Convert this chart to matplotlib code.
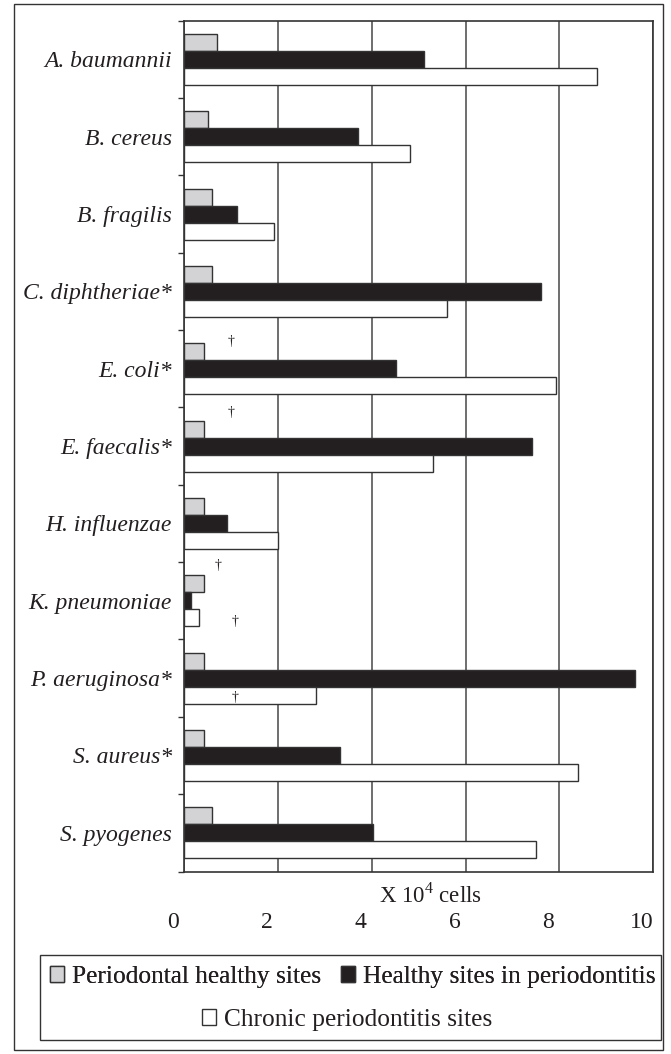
import matplotlib
matplotlib.use("Agg")
import matplotlib.pyplot as plt
import numpy as np
from matplotlib.patches import Rectangle, Patch
from matplotlib.transforms import ScaledTranslation

plt.rcParams['font.family'] = ['Liberation Serif', 'DejaVu Serif']
plt.rcParams['mathtext.fontset'] = 'custom'
plt.rcParams['mathtext.rm'] = 'Liberation Serif'
plt.rcParams['text.color'] = '#231f20'

# data, x 10^4 cells
species = ['A. baumannii', 'B. cereus', 'B. fragilis', 'C. diphtheriae*', 'E. coli*',
           'E. faecalis*', 'H. influenzae', 'K. pneumoniae', 'P. aeruginosa*',
           'S. aureus*', 'S. pyogenes']
healthy = [0.70, 0.51, 0.60, 0.60, 0.41, 0.41, 0.41, 0.41, 0.41, 0.41, 0.60]
healthy_in_perio = [5.12, 3.71, 1.12, 7.62, 4.51, 7.42, 0.92, 0.14, 9.62, 3.32, 4.02]
chronic = [8.80, 4.81, 1.91, 5.61, 7.92, 5.31, 2.00, 0.31, 2.80, 8.40, 7.51]
series_names = ['Periodontal healthy sites', 'Healthy sites in periodontitis',
                'Chronic periodontitis sites']
x_ticks = [0, 2, 4, 6, 8, 10]

# significance marks (category index, x value, offset within the category)
dagger_cat = [4, 5, 7, 7, 8]
dagger_x = [1.0, 1.0, 0.72, 1.09, 1.09]
dagger_dy = [-0.35, -0.44, -0.45, 0.27, 0.25]

colors = ['#d3d3d5', '#231f20', '#ffffff']
edge = '#333333'

W, H = 671, 1054
fig = plt.figure(figsize=(W / 100, H / 100), dpi=100)

left, right, top, bottom = 184.3, 653.0, 20.7, 871.5
ax = fig.add_axes([left / W, 1 - bottom / H, (right - left) / W, (bottom - top) / H])

n = len(species)
y = np.arange(n)
h = 0.22
for vals, off, c in zip([healthy, healthy_in_perio, chronic], [-h, 0, h], colors):
    ax.barh(y + off, vals, h, color=c, edgecolor=edge, linewidth=1.0, zorder=3)

ax.set_xlim(0, 10)
ax.set_ylim(n - 0.5, -0.5)

ax.set_xticks(x_ticks)
ax.set_xticklabels([str(t) for t in x_ticks])
ax.grid(axis='x', color='#555555', linewidth=1.2, zorder=0)
ax.set_axisbelow(True)
ax.tick_params(axis='x', length=0, pad=29, labelsize=17, labelcolor='#231f20')
for lab in ax.get_xticklabels():
    lab.set_transform(lab.get_transform() + ScaledTranslation(-0.11, 0, fig.dpi_scale_trans))

ax.set_yticks(y)
ax.set_yticklabels(species, fontstyle='italic', fontsize=17)
ax.tick_params(axis='y', which='major', length=0, pad=9, labelcolor='#231f20')
ax.set_yticks(np.arange(n + 1) - 0.5, minor=True)
ax.tick_params(axis='y', which='minor', length=4.3, width=1.0, direction='out', color=edge)

for s in ax.spines.values():
    s.set_color(edge)
    s.set_linewidth(1.2)

for c, xv, dy in zip(dagger_cat, dagger_x, dagger_dy):
    ax.text(xv, c + dy, '\u2020', ha='center', va='center', fontsize=10, zorder=4)

fig.text(430 / W, 1 - 895 / H, 'X 10$^{\\mathregular{4}}$ cells', ha='center', va='center',
         fontsize=16.5)

# outer frame
fig.patches.append(Rectangle((14 / W, 4 / H), (663 - 14) / W, (1050 - 4) / H,
                             transform=fig.transFigure, fill=False, ec=edge, lw=1.0))
# legend box
fig.patches.append(Rectangle((40 / W, 1 - 1040 / H), (661 - 40) / W, (1040 - 955) / H,
                             transform=fig.transFigure, fill=False, ec=edge, lw=1.0))

handles = [Patch(facecolor=c, edgecolor=edge, linewidth=1.0, label=nm)
           for c, nm in zip(colors, series_names)]
leg_kw = dict(frameon=False, fontsize=18.3, handlelength=0.55, handleheight=0.55,
              handletextpad=0.3, columnspacing=0.8, borderpad=0, borderaxespad=0)
leg1 = fig.legend(handles=handles[:2], ncol=2, loc='center', bbox_to_anchor=(353 / W, 1 - 977 / H), **leg_kw)
fig.add_artist(leg1)
fig.legend(handles=handles[2:], ncol=1, loc='center', bbox_to_anchor=(347 / W, 1 - 1020 / H), **leg_kw)

fig.savefig('out.png', dpi=100)
